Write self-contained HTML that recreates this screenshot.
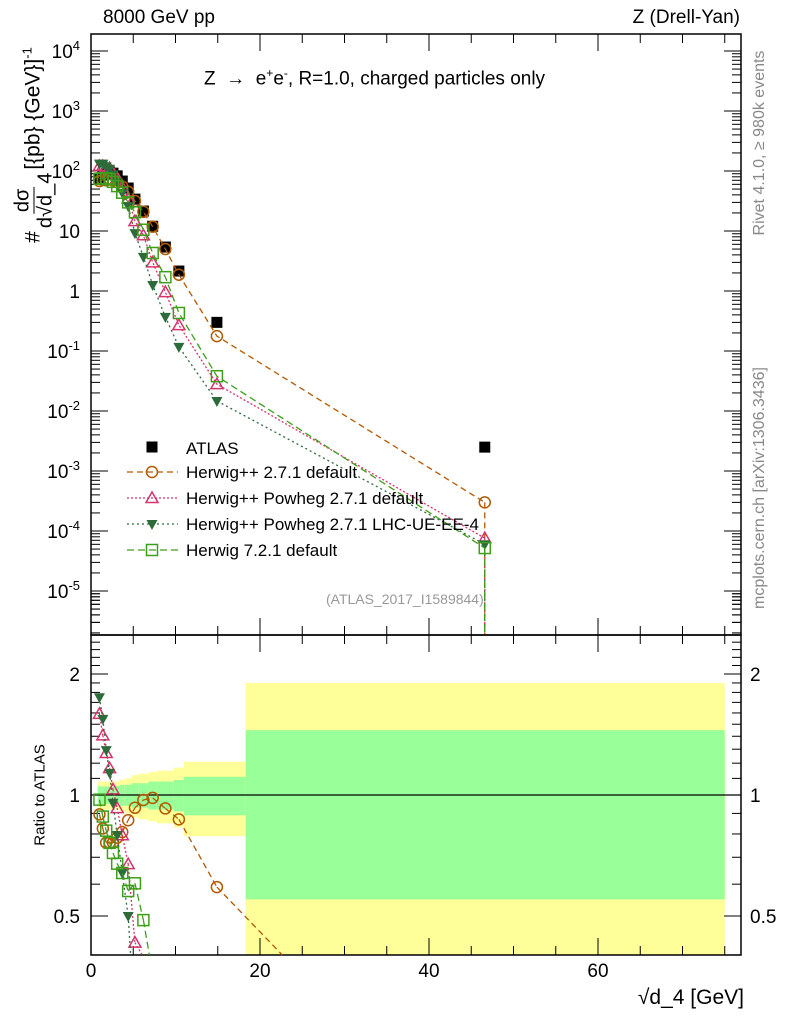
<!DOCTYPE html>
<html><head><meta charset="utf-8">
<style>
html,body{margin:0;background:#fff;width:786px;height:1024px;overflow:hidden;}
svg{display:block;font-family:"Liberation Sans",sans-serif;}
.frac{display:inline-flex;flex-direction:column;align-items:center;vertical-align:middle;font-size:20px;line-height:22px;margin:0 3px;}
.frac .num{border-bottom:1.5px solid #000;padding:0 2px;}
</style></head>
<body>
<svg id="c" width="786" height="1024" viewBox="0 0 786 1024"></svg>
<script>
// ---- data ----
const xCenters = [1.0,1.4,1.8,2.2,2.6,3.1,3.7,4.4,5.2,6.2,7.3,8.8,10.4,14.9,46.6];
const binEdges = [0.8,1.2,1.6,2.0,2.4,2.8,3.4,4.0,4.8,5.6,6.8,7.8,9.8,11.0,18.3,75];
const atlas = [76,86,92,96,92,83,68,52,34,21.5,12,5.4,2.15,0.3,0.0025];
const bandYellow = [0.08,0.08,0.08,0.08,0.08,0.08,0.09,0.1,0.12,0.13,0.14,0.15,0.17,0.21,0.9];
const bandGreen = [0.05,0.05,0.05,0.05,0.05,0.05,0.06,0.06,0.07,0.07,0.08,0.08,0.09,0.11,0.45];
const herwigpp = [68,71,70,73,70,65,55,45,31.6,20.9,11.8,5.0,1.87,0.177,0.0003];
const powheg = [121,121,117,112,95,77,54,35,14.6,8.5,3.0,0.96,0.27,0.028,0.000076];
const powhegUE = [133,133,119,109,88,66,43.5,26,9.2,3.7,1.26,0.37,0.117,0.0147,0.00006];
const herwig7 = [74,76,75,73,66,56,43.5,30,20.5,10.5,4.3,1.7,0.43,0.038,0.000052];
const topTicks = [4,3,2,1,0,-1,-2,-3,-4,-5];
const xTicks = [0,20,40,60];
const ratioTicks = [2,1,0.5];

// ---- axes ----
const L=91,R=741,T=34,M=635,B=955;
const X = v => L + v*8.45;
const Y = v => 291 - 60*Math.log10(v);
const RY = r => 795 - 121*Math.log2(r);
const svg = document.getElementById('c');
const NS='http://www.w3.org/2000/svg';
function el(tag, attrs, parent){const e=document.createElementNS(NS,tag);for(const k in attrs)e.setAttribute(k,attrs[k]);(parent||svg).appendChild(e);return e;}
const clampB = y => Math.min(Math.max(y,M),B);

const gBand=el('g',{});


for(let i=0;i<xCenters.length;i++){
  const x0=X(binEdges[i]),x1=Math.min(X(binEdges[i+1]),R);
  const yy=bandYellow[i], gg=bandGreen[i];
  const yt=clampB(RY(1+yy)), yb=clampB(RY(Math.max(1-yy,0.01)));
  const ry=el('rect',{x:x0,y:yt,width:x1-x0,height:yb-yt,fill:'#ffff99'},gBand);
  
  
  const gt=clampB(RY(1+gg)), gb=clampB(RY(1-gg));
  const rg=el('rect',{x:x0,y:gt,width:x1-x0,height:gb-gt,fill:'#99ff99'},gBand);
  
  
}
el('line',{x1:L,x2:R,y1:RY(1),y2:RY(1),stroke:'#000','stroke-width':1.2});

el('rect',{x:L,y:T,width:R-L,height:M-T,fill:'none',stroke:'#000','stroke-width':1.5});
el('rect',{x:L,y:M,width:R-L,height:B-M,fill:'none',stroke:'#000','stroke-width':1.5});

for(const e of topTicks){
  const y=Y(Math.pow(10,e));
  el('line',{x1:L,x2:L+17,y1:y,y2:y,stroke:'#000'});
  el('line',{x1:R,x2:R-17,y1:y,y2:y,stroke:'#000'});
  for(let k=2;k<10;k++){const ym=Y(k*Math.pow(10,e-1)); if(ym<M&&ym>T){el('line',{x1:L,x2:L+9,y1:ym,y2:ym,stroke:'#000'});el('line',{x1:R,x2:R-9,y1:ym,y2:ym,stroke:'#000'});}}
  let lab=null;
  if(e===0) lab='1'; else if(e===1) lab='10';
  const t=el('text',{x:80,y:y+7,'text-anchor':'end','font-size':19});
  
  
  if(lab) t.textContent=lab;
  else { t.textContent='10'; const s=el('tspan',{dy:-8,'font-size':13},t); s.textContent=String(e); }
}
for(let k=2;k<10;k++){const ym=Y(k*1e-6); if(ym<M&&ym>T){el('line',{x1:L,x2:L+9,y1:ym,y2:ym,stroke:'#000'});el('line',{x1:R,x2:R-9,y1:ym,y2:ym,stroke:'#000'});}}
for(let v=0;v<=75;v+=5){
  const x=X(v), big=(v%20===0);
  const h=big?17:9;
  el('line',{x1:x,x2:x,y1:T,y2:T+h,stroke:'#000'});
  el('line',{x1:x,x2:x,y1:M,y2:M-h,stroke:'#000'});
  el('line',{x1:x,x2:x,y1:M,y2:M+h,stroke:'#000'});
  el('line',{x1:x,x2:x,y1:B,y2:B-h,stroke:'#000'});
}
for(const v of xTicks){
  const t=el('text',{x:X(v),y:977,'text-anchor':'middle','font-size':19});
  
  
  t.textContent=String(v);
}
for(let r=0.4;r<=2.5;r+=0.1){
  const y=RY(r); if(y<=M||y>=B) continue;
  el('line',{x1:L,x2:L+9,y1:y,y2:y,stroke:'#000'});
  el('line',{x1:R,x2:R-9,y1:y,y2:y,stroke:'#000'});
}
for(const r of ratioTicks){
  const y=RY(r);
  el('line',{x1:L,x2:L+17,y1:y,y2:y,stroke:'#000'});
  el('line',{x1:R,x2:R-17,y1:y,y2:y,stroke:'#000'});
  const t=el('text',{x:80,y:y+7,'text-anchor':'end','font-size':19});
  
  
  t.textContent=String(r);
  const t2=el('text',{x:750,y:y+7,'text-anchor':'start','font-size':19});
  
  
  t2.textContent=String(r);
}

const series=[
 {name:'herwigpp-2.7.1',vals:herwigpp,color:'#b35900',dash:'6,4',marker:'circle',label:'Herwig++ 2.7.1 default'},
 {name:'herwigpp-powheg',vals:powheg,color:'#d6336c',dash:'2,2',marker:'tri',label:'Herwig++ Powheg 2.7.1 default'},
 {name:'herwigpp-powheg-ue',vals:powhegUE,color:'#2e6b3a',dash:'2,3',marker:'tridown',label:'Herwig++ Powheg 2.7.1 LHC-UE-EE-4'},
 {name:'herwig-7.2.1',vals:herwig7,color:'#3d9e1a',dash:'7,4',marker:'square',label:'Herwig 7.2.1 default'}
];
function marker(g,type,x,y,color){
  let m;
  if(type==='circle') m=el('circle',{cx:x,cy:y,r:5.5,fill:'none',stroke:color,'stroke-width':1.5},g);
  else if(type==='tri') m=el('polygon',{points:`${x},${y-6} ${x-6},${y+4.5} ${x+6},${y+4.5}`,fill:'none',stroke:color,'stroke-width':1.5},g);
  else if(type==='tridown') m=el('polygon',{points:`${x},${y+6} ${x-5.5},${y-4} ${x+5.5},${y-4}`,fill:color},g);
  else if(type==='square') m=el('rect',{x:x-5.5,y:y-5.5,width:11,height:11,fill:'none',stroke:color,'stroke-width':1.5},g);
  else m=el('rect',{x:x-5.5,y:y-5.5,width:11,height:11,fill:'#000'},g);
  return m;
}
// clip a segment to y range [ymin,ymax]
function clipSeg(x1,y1,x2,y2,ymin,ymax){
  if((y1>ymax&&y2>ymax)||(y1<ymin&&y2<ymin)) return null;
  const f=(yt)=>x1+(x2-x1)*(yt-y1)/(y2-y1);
  if(y1>ymax){x1=f(ymax);y1=ymax;} else if(y1<ymin){x1=f(ymin);y1=ymin;}
  if(y2>ymax){x2=x1+(x2-x1)*0; }
  return [x1,y1,x2,y2];
}
function drawClippedLine(g,xs,ys,ymin,ymax,attrs){
  for(let i=0;i<xs.length-1;i++){
    let a=[xs[i],ys[i]], b=[xs[i+1],ys[i+1]];
    if((a[1]>ymax&&b[1]>ymax)||(a[1]<ymin&&b[1]<ymin)) continue;
    const cut=(p,q,yt)=>[p[0]+(q[0]-p[0])*(yt-p[1])/(q[1]-p[1]),yt];
    if(a[1]>ymax) a=cut(a,b,ymax); else if(a[1]<ymin) a=cut(a,b,ymin);
    if(b[1]>ymax) b=cut(a,b,ymax); else if(b[1]<ymin) b=cut(a,b,ymin);
    el('line',Object.assign({x1:a[0],y1:a[1],x2:b[0],y2:b[1]},attrs),g);
  }
}
const gA=el('g',{});


atlas.forEach((v,i)=>{const m=marker(gA,'atlas',X(xCenters[i]),Y(v));});
series.forEach(s=>{
  const gT=el('g',{});
  
  
  const pts=s.vals.map((v,i)=>X(xCenters[i])+','+Y(v)).join(' ');
  el('polyline',{points:pts,fill:'none',stroke:s.color,'stroke-width':1.3,'stroke-dasharray':s.dash},gT);
  const last=s.vals.length-1;
  el('line',{x1:X(xCenters[last]),x2:X(xCenters[last]),y1:Y(s.vals[last]),y2:M-1,stroke:s.color,'stroke-width':1.3,'stroke-dasharray':s.dash},gT);
  s.vals.forEach((v,i)=>{const m=marker(gT,s.marker,X(xCenters[i]),Y(v),s.color);});
  const gR=el('g',{});
  
  
  const xs=xCenters.map(X), ys=s.vals.map((v,i)=>RY(v/atlas[i]));
  drawClippedLine(gR,xs,ys,M,B,{stroke:s.color,'stroke-width':1.3,'stroke-dasharray':s.dash});
  s.vals.forEach((v,i)=>{
    const y=ys[i]; if(y>B-4||y<M+4) return;
    const m=marker(gR,s.marker,xs[i],y,s.color);
    
    
  });
});

const gL=el('g',{});


const lgY=[447,472,498,524,550];
marker(gL,'atlas',152,lgY[0]);
const t0=el('text',{x:186,y:lgY[0]+7,'font-size':17},gL); t0.textContent='ATLAS';


series.forEach((s,i)=>{
  const y=lgY[i+1];
  el('line',{x1:127,x2:178,y1:y,y2:y,stroke:s.color,'stroke-width':1.3,'stroke-dasharray':s.dash},gL);
  marker(gL,s.marker,152,y,s.color);
  const t=el('text',{x:186,y:y+6,'font-size':17},gL); t.textContent=s.label;
  
  
});
</script>
<div style="position:absolute;left:0;top:0;width:786px;height:1024px;overflow:hidden;font-family:'Liberation Sans',sans-serif;pointer-events:none;">
  <div style="position:absolute;left:103px;top:7px;font-size:19px;">8000 GeV pp</div>
  <div style="position:absolute;right:46px;top:7px;font-size:19px;">Z (Drell-Yan)</div>
  <div style="position:absolute;left:204px;top:66px;font-size:19px;">Z &nbsp;→&nbsp; e<sup style="font-size:12px">+</sup>e<sup style="font-size:12px">-</sup>, R=1.0, charged particles only</div>
  <div style="position:absolute;left:326px;top:591px;font-size:14px;color:#999;">(ATLAS_2017_I1589844)</div>
  <div style="position:absolute;left:40px;top:795px;font-size:15px;transform:translate(-50%,-50%) rotate(-90deg);white-space:nowrap;">Ratio to ATLAS</div>
  <div style="position:absolute;left:34px;top:145px;font-size:21px;transform:translate(-50%,-50%) rotate(-90deg);white-space:nowrap;">#<span class="frac"><span class="num">dσ</span><span>d√d_4</span></span>[{pb} {GeV}]<sup style="font-size:13px">-1</sup></div>
  <div style="position:absolute;right:42px;top:986px;font-size:21px;">√d_4 [GeV]</div>
  <div style="position:absolute;left:760px;top:143px;font-size:16px;color:#888;transform:translate(-50%,-50%) rotate(-90deg);white-space:nowrap;">Rivet 4.1.0, ≥ 980k events</div>
  <div style="position:absolute;left:760px;top:488px;font-size:16px;color:#888;transform:translate(-50%,-50%) rotate(-90deg);white-space:nowrap;">mcplots.cern.ch [arXiv:1306.3436]</div>
</div>
</body></html>
